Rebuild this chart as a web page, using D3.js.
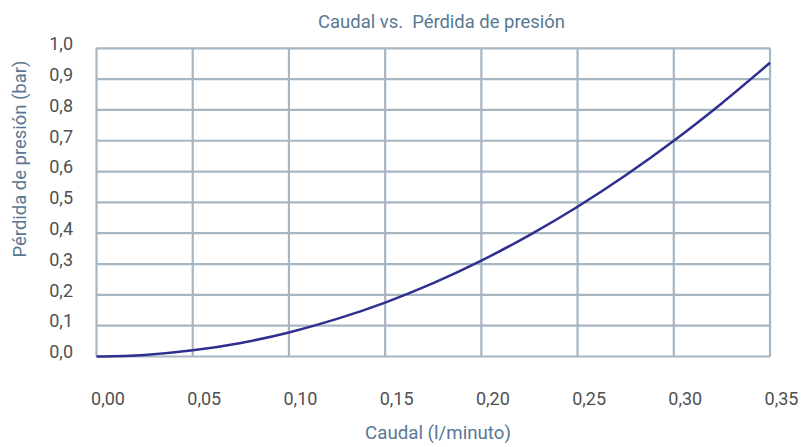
<!DOCTYPE html>
<html><head><meta charset="utf-8">
<script src="https://cdn.jsdelivr.net/npm/d3@7"></script>
<style>body{margin:0;background:#fff}svg{display:block}</style>
</head><body>
<svg id="c" width="803" height="447"></svg>
<script>
const caudal = [0, 0.025, 0.05, 0.075, 0.10, 0.125, 0.15, 0.175, 0.20, 0.225, 0.25, 0.275, 0.30, 0.325, 0.35];
const perdida = [0, 0.005, 0.02, 0.044, 0.078, 0.122, 0.175, 0.238, 0.311, 0.394, 0.486, 0.588, 0.70, 0.822, 0.953];
const xTicks = [0, 0.05, 0.10, 0.15, 0.20, 0.25, 0.30, 0.35];
const yTicks = [0, 0.1, 0.2, 0.3, 0.4, 0.5, 0.6, 0.7, 0.8, 0.9, 1.0];
const title = "Caudal vs.\u00a0\u00a0Pérdida de presión";
const xTitle = "Caudal (l/minuto)";
const yTitle = "Pérdida de presión (bar)";

const svg = d3.select("#c");
const font = "Roboto, 'Noto Sans', sans-serif";
const x = d3.scaleLinear().domain([0, 0.35]).range([96.5, 770]);
const y = d3.scaleLinear().domain([0, 1]).range([356.5, 48.3]);
const grid = "#a7b6c3";

const g = svg.append("g");
g.selectAll("line.h").data(yTicks).join("line")
  .attr("x1", x(0)).attr("x2", x(0.35)).attr("y1", d => y(d)).attr("y2", d => y(d))
  .attr("stroke", grid).attr("stroke-width", 2.2);
g.selectAll("line.v").data(xTicks).join("line")
  .attr("y1", y(0)).attr("y2", y(1)).attr("x1", d => x(d)).attr("x2", d => x(d))
  .attr("stroke", grid).attr("stroke-width", 2.2);

const fmt2 = d => d3.format(".2f")(d).replace(".", ",");
const fmt1 = d => d3.format(".1f")(d).replace(".", ",");

const xAxis = d3.axisBottom(x).tickValues(xTicks).tickFormat(fmt2).tickSize(0).tickPadding(0);
const xa = svg.append("g").attr("transform", `translate(11,${y(0)})`).call(xAxis);
xa.select(".domain").remove();
xa.selectAll("text").attr("dy", null).attr("y", 48).attr("font-family", font).attr("font-size", 18).attr("fill", "#505050");

const yAxis = d3.axisLeft(y).tickValues(yTicks).tickFormat(fmt1).tickSize(0).tickPadding(0);
const ya = svg.append("g").attr("transform", `translate(73,-4.5)`).call(yAxis);
ya.select(".domain").remove();
ya.selectAll("text").attr("font-family", font).attr("font-size", 18).attr("fill", "#505050");

const line = d3.line().x((d, i) => x(caudal[i])).y(d => y(d)).curve(d3.curveMonotoneX);
svg.append("path").datum(perdida).attr("d", line).attr("fill", "none")
  .attr("stroke", "#2e2f8f").attr("stroke-width", 2.5);

const tc = "#587893";
function fit(sel, w) {
  const l = sel.node().getComputedTextLength();
  const fs = +sel.attr("font-size");
  sel.attr("font-size", (fs * w / l).toFixed(2));
}
const t1 = svg.append("text").attr("x", 441.5).attr("y", 28).attr("text-anchor", "middle")
  .attr("font-family", font).attr("font-size", 16).attr("fill", tc).text(title);
fit(t1, 247);
const t2 = svg.append("text").attr("x", 438).attr("y", 439).attr("text-anchor", "middle")
  .attr("font-family", font).attr("font-size", 16).attr("fill", tc).text(xTitle);
fit(t2, 146);
const t3 = svg.append("text").attr("transform", "translate(26,159) rotate(-90)").attr("text-anchor", "middle")
  .attr("font-family", font).attr("font-size", 16).attr("fill", tc).text(yTitle);
fit(t3, 197);
</script>
</body></html>
